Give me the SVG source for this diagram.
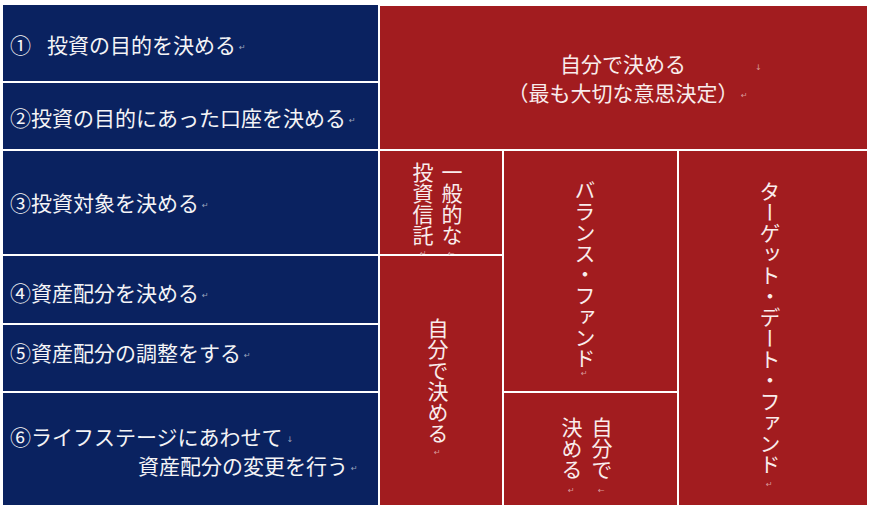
<svg xmlns="http://www.w3.org/2000/svg" width="870" height="508" viewBox="0 0 870 508">
<style>
.navy{fill:#0a2260}
.red{fill:#a21c1f}
.t{font-family:"Noto Sans CJK JP","Noto Sans",sans-serif;font-size:21px;fill:#f4f4f6}
.tr{font-family:"Noto Sans CJK JP","Noto Sans",sans-serif;font-size:21px;fill:#f9ecec}
.v{writing-mode:vertical-rl;text-anchor:start}
.m{font-family:"DejaVu Sans",sans-serif;font-size:8px;fill:#9aa4bc}
.mr{font-family:"DejaVu Sans",sans-serif;font-size:8px;fill:#d99a9a}
</style>
<rect x="0" y="0" width="870" height="508" fill="#ffffff"/>
<g id="grid">
<rect x="2" y="4" width="866" height="502" fill="#ffffff"/>
</g>
<g id="step1"><rect class="navy" x="3" y="5" width="375" height="76"/>
<text class="t" x="10" y="53">①<tspan x="47">投資の目的を決める</tspan><tspan class="m" dx="3" dy="-3">↵</tspan></text></g>
<g id="step2"><rect class="navy" x="3" y="83" width="375" height="66"/>
<text class="t" x="10" y="126">②投資の目的にあった口座を決める<tspan class="m" dx="3" dy="-3">↵</tspan></text></g>
<g id="step3"><rect class="navy" x="3" y="151" width="375" height="103"/>
<text class="t" x="10" y="211">③投資対象を決める<tspan class="m" dx="3" dy="-3">↵</tspan></text></g>
<g id="step4"><rect class="navy" x="3" y="256" width="375" height="67"/>
<text class="t" x="10" y="301">④資産配分を決める<tspan class="m" dx="3" dy="-3">↵</tspan></text></g>
<g id="step5"><rect class="navy" x="3" y="325" width="375" height="66"/>
<text class="t" x="10" y="361">⑤資産配分の調整をする<tspan class="m" dx="3" dy="-3">↵</tspan></text></g>
<g id="step6"><rect class="navy" x="3" y="393" width="375" height="112"/>
<text class="t" x="10" y="445">⑥ライフステージにあわせて<tspan class="m" dx="4" dy="-3">↓</tspan></text>
<text class="t" x="138" y="474">資産配分の変更を行う<tspan class="m" dx="3" dy="-3">↵</tspan></text></g>
<g id="decide-self"><rect class="red" x="380" y="6" width="487" height="143"/>
<text class="tr" x="623" y="72" text-anchor="middle">自分で決める</text>
<text class="mr" x="755" y="70">↓</text>
<text class="tr" x="623" y="101" text-anchor="middle">（最も大切な意思決定）</text>
<text class="mr" x="741" y="98">↵</text></g>
<g id="general-fund"><rect class="red" x="380" y="151" width="122" height="103"/>
<text class="tr v" x="452" y="162">一般的な</text>
<text class="tr v" x="423" y="162">投資信託</text>
<text class="mr" x="420" y="256">↵</text><text class="mr" x="448" y="256">←</text></g>
<g id="self-decide-1"><rect class="red" x="380" y="256" width="122" height="249"/>
<text class="tr v" x="438" y="318">自分で決める</text>
<text class="mr" x="434" y="455">↵</text></g>
<g id="balance-fund"><rect class="red" x="504" y="151" width="173" height="240"/>
<text class="tr v" x="585" y="180">バランス・ファンド</text>
<text class="mr" x="581" y="376">↵</text></g>
<g id="self-decide-2"><rect class="red" x="504" y="393" width="173" height="112"/>
<text class="tr v" x="602" y="417">自分で</text>
<text class="tr v" x="572" y="417">決める</text>
<text class="mr" x="568" y="493">↵</text><text class="mr" x="598" y="493">←</text></g>
<g id="target-date-fund"><rect class="red" x="679" y="151" width="188" height="354"/>
<text class="tr v" x="770" y="181">ターゲット・デート・ファンド</text>
<text class="mr" x="766" y="487">↵</text></g>
</svg>
